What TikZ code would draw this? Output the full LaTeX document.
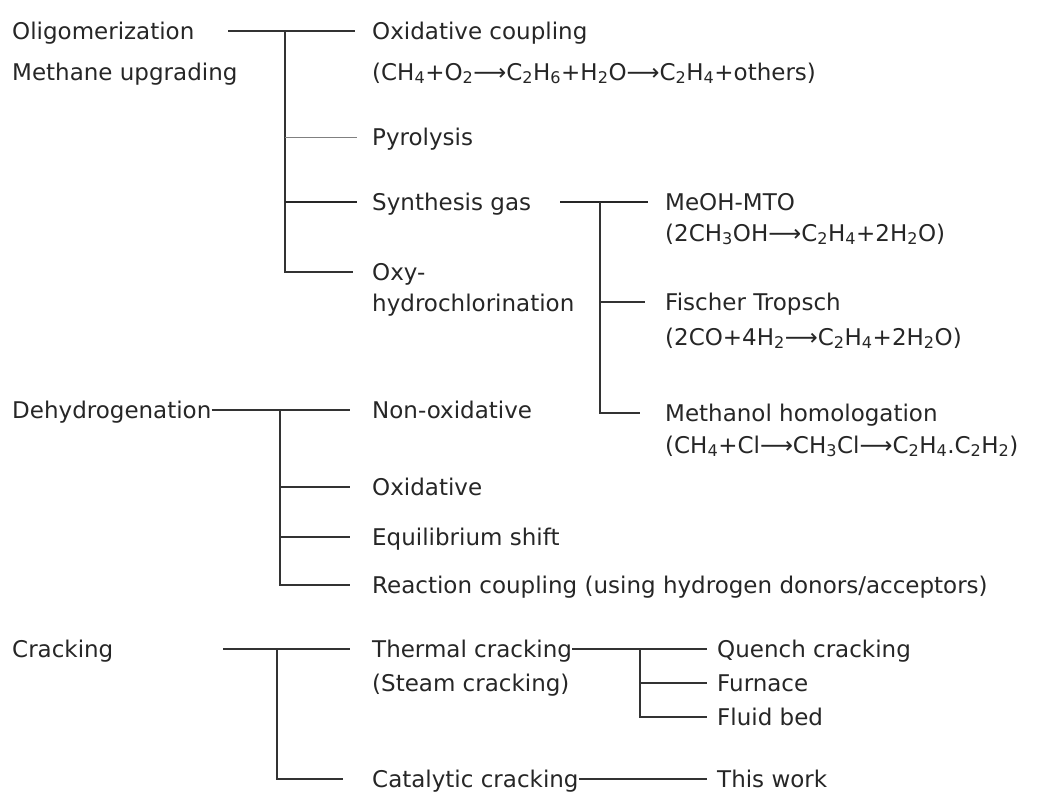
\documentclass[tikz,border=0pt]{standalone}
\usepackage{fontspec}
\setmainfont{DejaVu Sans}
\newcommand{\sbs}[1]{\textsubscript{#1}}
\newcommand{\yld}{⟶}

\begin{document}
\begin{tikzpicture}[x=1pt, y=-1pt,
  lbl/.style={anchor=west, inner sep=0pt, text height=16pt, text depth=0pt, font=\fontsize{23}{27}\selectfont, text=black!85},
  br/.style={line width=1.1pt, black!80},
  thk/.style={line width=1.8pt, black!85},
  faint/.style={line width=0.9pt, black!50}]
  \useasboundingbox (0,0) rectangle (1054,796);
  \node[lbl] (olig) at (12,31) {Oligomerization};
  \node[lbl] (meth) at (12,72) {Methane upgrading};
  \node[lbl] (oxc) at (372,31) {Oxidative coupling};
  \node[lbl] (oxcf) at (372,72) {(CH\sbs{4}+O\sbs{2}\yld C\sbs{2}H\sbs{6}+H\sbs{2}O\yld C\sbs{2}H\sbs{4}+others)};
  \node[lbl] (pyro) at (372,137) {Pyrolysis};
  \node[lbl] (syn) at (372,202) {Synthesis gas};
  \node[lbl] (oxy) at (372,272) {Oxy-};
  \node[lbl] (hyd) at (372,303) {hydrochlorination};
  \node[lbl] (mto) at (665,202) {MeOH-MTO};
  \node[lbl] (mtof) at (665,233) {(2CH\sbs{3}OH\yld C\sbs{2}H\sbs{4}+2H\sbs{2}O)};
  \node[lbl] (ft) at (665,302) {Fischer Tropsch};
  \node[lbl] (ftf) at (665,337) {(2CO+4H\sbs{2}\yld C\sbs{2}H\sbs{4}+2H\sbs{2}O)};
  \node[lbl] (mh) at (665,413) {Methanol homologation};
  \node[lbl] (mhf) at (665,445) {(CH\sbs{4}+Cl\yld CH\sbs{3}Cl\yld C\sbs{2}H\sbs{4}.C\sbs{2}H\sbs{2})};
  \node[lbl] (dehy) at (12,410) {Dehydrogenation};
  \node[lbl] (nonox) at (372,410) {Non-oxidative};
  \node[lbl] (ox) at (372,487) {Oxidative};
  \node[lbl] (eq) at (372,537) {Equilibrium shift};
  \node[lbl] (rc) at (372,585) {Reaction coupling (using hydrogen donors/acceptors)};
  \node[lbl] (crack) at (12,649) {Cracking};
  \node[lbl] (therm) at (372,649) {Thermal cracking};
  \node[lbl] (steam) at (372,683) {(Steam cracking)};
  \node[lbl] (quench) at (717,649) {Quench cracking};
  \node[lbl] (furn) at (717,683) {Furnace};
  \node[lbl] (fluid) at (717,717) {Fluid bed};
  \node[lbl] (cat) at (372,779) {Catalytic cracking};
  \node[lbl] (thiswork) at (717,779) {This work};

  \coordinate (o0) at (228,31);
  \coordinate (j1) at (285,31);
  \draw[br] (o0) -- ([xshift=-17pt]oxc.west);
  \draw[br] (j1) -- (j1 |- oxy.west) -- ([xshift=-19pt]oxy.west);
  \draw[faint] (j1 |- pyro.west) -- ([xshift=-15pt]pyro.west);
  \draw[thk] (j1 |- syn.west) -- ([xshift=-15pt]syn.west);

  \coordinate (s0) at (560,202);
  \coordinate (j2) at (600,202);
  \draw[thk] (s0) -- ([xshift=-17pt]mto.west);
  \draw[br] (j2) -- (j2 |- mh.west) -- ([xshift=-25pt]mh.west);
  \draw[br] (j2 |- ft.west) -- ([xshift=-20pt]ft.west);

  \coordinate (j3) at (280,410);
  \draw[br] (dehy.east) -- ([xshift=-22pt]nonox.west);
  \draw[br] (j3) -- (j3 |- rc.west) -- ([xshift=-22pt]rc.west);
  \draw[br] (j3 |- ox.west) -- ([xshift=-22pt]ox.west);
  \draw[br] (j3 |- eq.west) -- ([xshift=-22pt]eq.west);

  \coordinate (c0) at (223,649);
  \coordinate (j4) at (277,649);
  \draw[br] (c0) -- ([xshift=-22pt]therm.west);
  \draw[br] (j4) -- (j4 |- cat.west) -- ([xshift=-29pt]cat.west);

  \coordinate (j5) at (640,649);
  \draw[br] (therm.east) -- ([xshift=-10pt]quench.west);
  \draw[br] (j5) -- (j5 |- fluid.west) -- ([xshift=-10pt]fluid.west);
  \draw[br] (j5 |- furn.west) -- ([xshift=-10pt]furn.west);
  \draw[br] (cat.east) -- ([xshift=-10pt]thiswork.west);
\end{tikzpicture}
\end{document}
